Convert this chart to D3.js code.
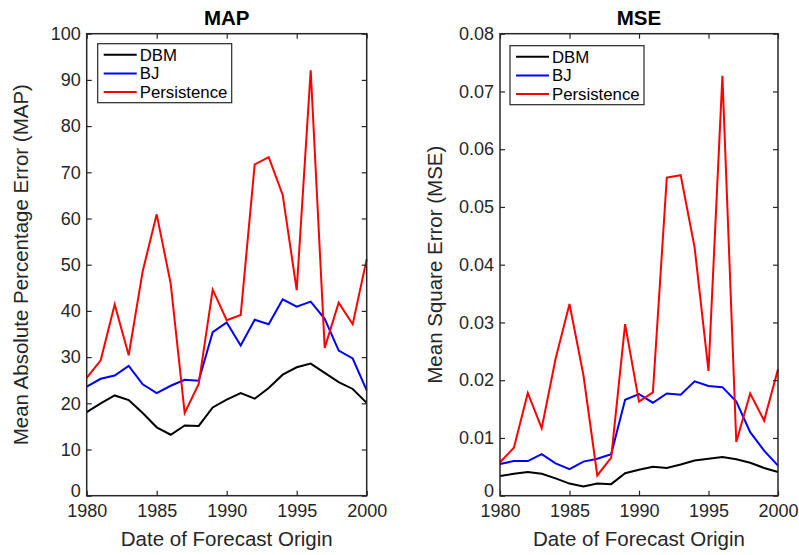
<!DOCTYPE html>
<html>
<head>
<meta charset="utf-8">
<script src="https://cdn.jsdelivr.net/npm/d3@7"></script>
<style>
  html, body { margin: 0; padding: 0; background: #fff; }
  svg { display: block; font-family: "Liberation Sans", Arial, Helvetica, sans-serif; }
</style>
</head>
<body>
<svg id="chart" width="799" height="555"></svg>
<script>
// Forecast origin years
const years = [1980, 1981, 1982, 1983, 1984, 1985, 1986, 1987, 1988, 1989, 1990,
               1991, 1992, 1993, 1994, 1995, 1996, 1997, 1998, 1999, 2000];

// Mean absolute percentage error by model
const mapDBM = [18.1, 20.0, 21.7, 20.7, 17.9, 14.8, 13.2, 15.2, 15.1, 19.1, 20.8,
                22.2, 21.0, 23.3, 26.2, 27.8, 28.6, 26.6, 24.6, 23.1, 20.1];
const mapBJ = [23.6, 25.3, 26.0, 28.1, 24.1, 22.2, 23.8, 25.1, 24.9, 35.4, 37.5,
               32.5, 38.1, 37.1, 42.5, 40.9, 42.0, 38.3, 31.4, 29.7, 22.8];
const mapPersistence = [25.5, 29.3, 41.4, 30.4, 48.6, 60.9, 45.9, 17.9, 24.2, 44.6, 38.0,
                        39.1, 71.7, 73.3, 65.1, 44.5, 92.1, 32.0, 41.8, 37.1, 51.2];

// Mean square error by model
const mseDBM = [0.0034, 0.0038, 0.0041, 0.0038, 0.0030, 0.0021, 0.0016, 0.0021, 0.0020, 0.0039, 0.0045,
                0.0050, 0.0048, 0.0054, 0.0061, 0.0064, 0.0067, 0.0063, 0.0057, 0.0048, 0.0041];
const mseBJ = [0.0055, 0.0060, 0.0060, 0.0072, 0.0056, 0.0046, 0.0059, 0.0064, 0.0072, 0.0166, 0.0176,
               0.0161, 0.0177, 0.0175, 0.0198, 0.0190, 0.0188, 0.0163, 0.0110, 0.0078, 0.0052];
const msePersistence = [0.0058, 0.0083, 0.0178, 0.0117, 0.0237, 0.0332, 0.0209, 0.0035, 0.0066, 0.0297, 0.0163,
                        0.0179, 0.0551, 0.0555, 0.0430, 0.0216, 0.0727, 0.0093, 0.0177, 0.0130, 0.0219];

// Tick values
const yearTicks = [1980, 1985, 1990, 1995, 2000];
const mapTicks = [0, 10, 20, 30, 40, 50, 60, 70, 80, 90, 100];
const mseTicks = [0, 0.01, 0.02, 0.03, 0.04, 0.05, 0.06, 0.07, 0.08];

const seriesNames = ["DBM", "BJ", "Persistence"];
const seriesColors = ["#000000", "#0000ff", "#ff0000"];

const svg = d3.select("#chart");
const axisColor = "#262626";

function drawPanel(opts) {
  const { left, right, top, bottom, yMax, yTicks, yFmt, title, yLabel, series, legendDx, legendDy } = opts;
  const g = svg.append("g");

  const x = d3.scaleLinear().domain([1980, 2000]).range([left, right]);
  const y = d3.scaleLinear().domain([0, yMax]).range([bottom, top]);

  // data lines
  const line = d3.line().x((d, i) => x(years[i])).y(d => y(d));
  series.forEach((s, k) => {
    g.append("path")
      .datum(s)
      .attr("d", line)
      .attr("fill", "none")
      .attr("stroke", seriesColors[k])
      .attr("stroke-width", 2)
      .attr("stroke-linejoin", "miter");
  });

  // axes with inward ticks on all four sides
  const tickLen = 5;
  const axBottom = d3.axisBottom(x).tickValues(yearTicks).tickFormat(d3.format("d")).tickSize(-tickLen).tickPadding(9);
  const axTop = d3.axisTop(x).tickValues(yearTicks).tickFormat("").tickSize(-tickLen);
  const axLeft = d3.axisLeft(y).tickValues(yTicks).tickFormat(yFmt).tickSize(-tickLen).tickPadding(6);
  const axRight = d3.axisRight(y).tickValues(yTicks).tickFormat("").tickSize(-tickLen);

  const styleAxis = sel => {
    sel.select(".domain").remove();
    sel.selectAll(".tick line").attr("stroke", axisColor).attr("stroke-width", 1.2);
    sel.selectAll(".tick text").attr("fill", axisColor).style("font-size", "18px")
      .style("font-family", "'Liberation Sans', Arial, Helvetica, sans-serif");
  };

  g.append("g").attr("transform", `translate(0,${bottom})`).call(axBottom).call(styleAxis);
  g.append("g").attr("transform", `translate(0,${top})`).call(axTop).call(styleAxis);
  const yAxisG = g.append("g").attr("transform", `translate(${left},0)`).call(axLeft).call(styleAxis);
  // the zero label sits a little above its tick so it clears the year labels
  yAxisG.selectAll(".tick").filter(d => d === 0).select("text").attr("y", -5);
  g.append("g").attr("transform", `translate(${right},0)`).call(axRight).call(styleAxis);

  // axes box
  g.append("rect")
    .attr("x", left).attr("y", top)
    .attr("width", right - left).attr("height", bottom - top)
    .attr("fill", "none").attr("stroke", axisColor).attr("stroke-width", 1.5);

  // title
  g.append("text")
    .attr("x", (left + right) / 2).attr("y", 25)
    .attr("text-anchor", "middle")
    .attr("font-weight", "bold")
    .attr("font-size", 20.5)
    .attr("fill", "#000")
    .text(title);

  // x axis label
  g.append("text")
    .attr("x", (left + right) / 2).attr("y", 546)
    .attr("text-anchor", "middle")
    .attr("font-size", 20.5)
    .attr("fill", axisColor)
    .text("Date of Forecast Origin");

  // y axis label
  const ly = (top + bottom) / 2;
  const lx = left - 58.5;
  g.append("text")
    .attr("transform", `translate(${lx},${ly}) rotate(-90)`)
    .attr("text-anchor", "middle")
    .attr("font-size", 20.5)
    .attr("fill", axisColor)
    .text(yLabel);

  // legend
  const lgX = left + legendDx, lgY = top + legendDy;
  const lg = g.append("g").attr("transform", `translate(${lgX},${lgY})`);
  lg.append("rect")
    .attr("x", 0).attr("y", 0).attr("width", 134).attr("height", 59)
    .attr("fill", "#fff").attr("stroke", axisColor).attr("stroke-width", 1.2);
  seriesNames.forEach((name, k) => {
    const ry = 11 + k * 18.7;
    lg.append("line")
      .attr("x1", 6).attr("x2", 39).attr("y1", ry).attr("y2", ry)
      .attr("stroke", seriesColors[k]).attr("stroke-width", 2);
    lg.append("text")
      .attr("x", 42).attr("y", ry).attr("dy", "0.36em")
      .attr("font-size", 16.8)
      .attr("fill", "#000")
      .text(name);
  });
}

drawPanel({
  left: 86.7, right: 366.7, top: 33.7, bottom: 495.7,
  yMax: 100, yTicks: mapTicks, yFmt: d3.format("d"),
  title: "MAP", yLabel: "Mean Absolute Percentage Error (MAP)",
  series: [mapDBM, mapBJ, mapPersistence],
  legendDx: 11, legendDy: 10
});

drawPanel({
  left: 500, right: 778, top: 33.7, bottom: 495.7,
  yMax: 0.08, yTicks: mseTicks, yFmt: d => d === 0 ? "0" : d3.format(".2f")(d),
  title: "MSE", yLabel: "Mean Square Error (MSE)",
  series: [mseDBM, mseBJ, msePersistence],
  legendDx: 10, legendDy: 12
});
</script>
</body>
</html>
